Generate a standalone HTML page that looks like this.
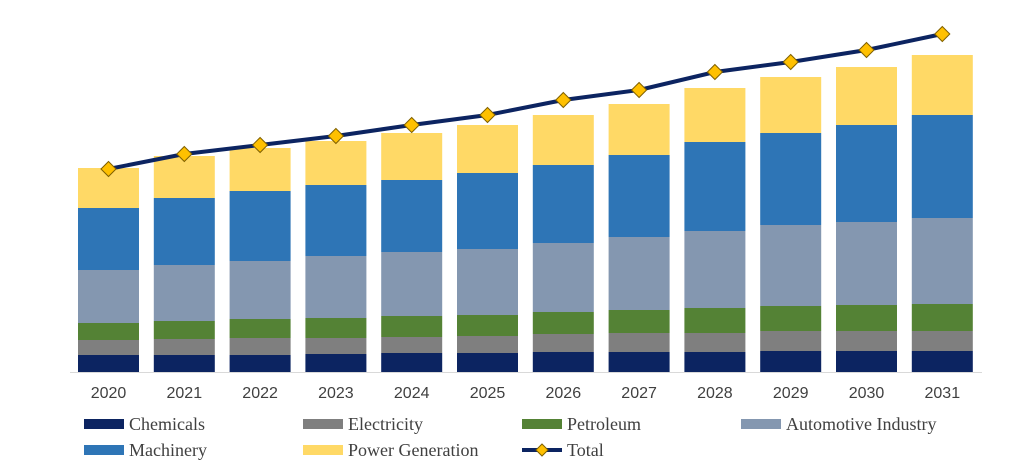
<!DOCTYPE html>
<html><head><meta charset="utf-8"><style>
body{margin:0;background:#fff;}
svg{display:block;}
.yr{font-family:"Liberation Sans",Arial,sans-serif;font-size:16px;fill:#404040;}
.lg{font-family:"Liberation Serif","Times New Roman",serif;font-size:18px;fill:#404040;}
</style></head><body>
<svg id="chart" width="1015" height="473" viewBox="0 0 1015 473"></svg>
<script>
const years=["2020","2021","2022","2023","2024","2025","2026","2027","2028","2029","2030","2031"];
const chemicals=[17,17,17,18,19,19,20,20,20,21,21,21];
const electricity=[15,16,17,16,16,17,18,19,19,20,20,20];
const petroleum=[17,18,19,20,21,21,22,23,25,25,26,27];
const automotive=[53,56,58,62,64,66,69,73,77,81,83,86];
const machinery=[62,67,70,71,72,76,78,82,89,92,97,103];
const powerGen=[40,42,43,44,47,48,50,51,54,56,58,60];
const total=[203,218,227,236,247,257,272,282,300,310,322,338];
const seriesNames=["Chemicals","Electricity","Petroleum","Automotive Industry","Machinery","Power Generation"];

const svg=document.getElementById('chart');
const NS="http://www.w3.org/2000/svg";
function mk(tag,attrs,parent){const e=document.createElementNS(NS,tag);for(const k in attrs)e.setAttribute(k,attrs[k]);(parent||svg).appendChild(e);return e;}
const base=372, x0=108.5, step=75.8, bw=61;
const xPos=i=>x0+i*step;
const yPos=v=>base-v;
const series=[chemicals,electricity,petroleum,automotive,machinery,powerGen];
const colors=["#0c2461","#7f7f7f","#548235","#8497b0","#2e75b6","#ffd966"];
const keys=["chemicals","electricity","petroleum","automotive","machinery","power-generation"];

const axis=mk('line',{x1:70,x2:982,y1:base+0.5,y2:base+0.5,stroke:'#d9d9d9','stroke-width':1});



years.forEach((y,i)=>{
  let acc=0;
  series.forEach((s,j)=>{
    const r=mk('rect',{x:xPos(i)-bw/2,y:yPos(acc+s[i]),width:bw,height:s[i],fill:colors[j]});
    
    
    acc+=s[i];
  });
  const t=mk('text',{x:xPos(i),y:398,'text-anchor':'middle',class:'yr'});
  t.textContent=y;
  
  
});

const pts=total.map((v,i)=>xPos(i)+','+yPos(v)).join(' ');
const line=mk('polyline',{points:pts,fill:'none',stroke:'#0c2461','stroke-width':4});


function diamond(cx,cy,r){return `${cx},${cy-r} ${cx+r},${cy} ${cx},${cy+r} ${cx-r},${cy}`;}
total.forEach((v,i)=>{
  const d=mk('polygon',{points:diamond(xPos(i),yPos(v),7.5),fill:'#ffc000',stroke:'#7f6000','stroke-width':1});
  
  
});

const lx=[84,303,522,741];
const items=[0,1,2,3,4,5,6];
items.forEach(k=>{
  const col=k%4,row=Math.floor(k/4);
  const x=lx[col],y=row?450:424;
  const g=mk('g',{});
  if(k<6){
    mk('rect',{x:x,y:y-5,width:40,height:10,fill:colors[k]},g);
    const t=mk('text',{x:x+45,y:y+6,class:'lg'},g);t.textContent=seriesNames[k];
    
  }else{
    mk('line',{x1:x,x2:x+40,y1:y,y2:y,stroke:'#0c2461','stroke-width':4},g);
    mk('polygon',{points:diamond(x+20,y,6),fill:'#ffc000',stroke:'#7f6000','stroke-width':1},g);
    const t=mk('text',{x:x+45,y:y+6,class:'lg'},g);t.textContent="Total";
    
  }
  
});
</script>
</body></html>
